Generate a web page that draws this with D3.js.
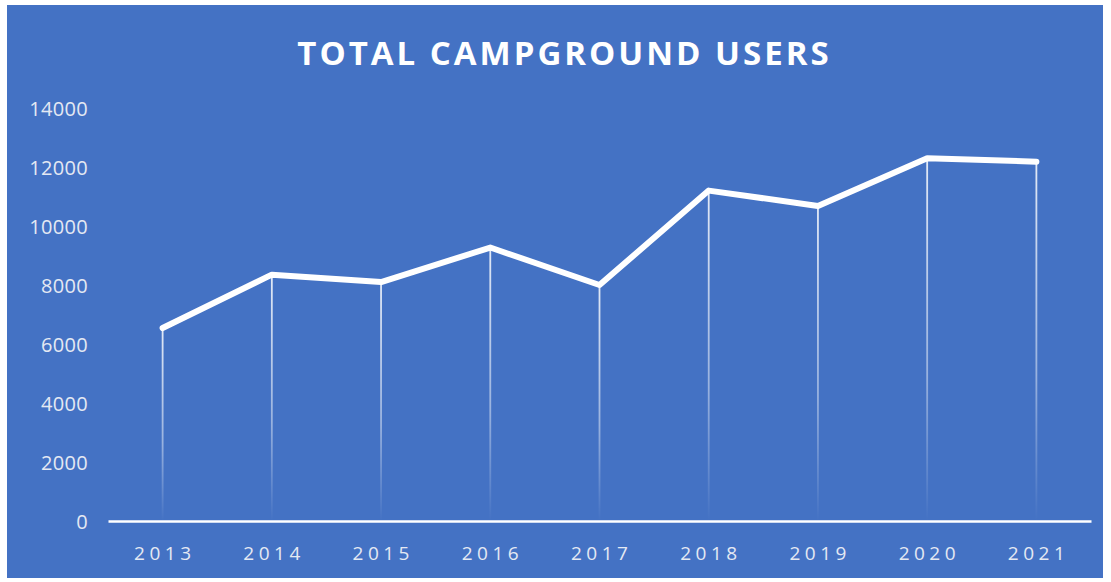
<!DOCTYPE html>
<html>
<head>
<meta charset="utf-8">
<script src="https://cdn.jsdelivr.net/npm/d3@7"></script>
<style>
html,body{margin:0;padding:0;background:#fff;}
svg{display:block;}
</style>
</head>
<body>
<svg id="chart" width="1111" height="582"></svg>
<script>
const years = ["2013","2014","2015","2016","2017","2018","2019","2020","2021"];
const users = [6540, 8350, 8100, 9270, 8000, 11200, 10680, 12300, 12180];
const yTicks = [0, 2000, 4000, 6000, 8000, 10000, 12000, 14000];
const title = "TOTAL CAMPGROUND USERS";

const svg = d3.select("#chart");

svg.append("rect").attr("x", 7).attr("y", 5).attr("width", 1096).attr("height", 573).attr("fill", "#4472C4");

const x = d3.scaleBand().domain(years).range([108, 1091]);
const y = d3.scaleLinear().domain([0, 14000]).range([521, 108]);

const defs = svg.append("defs");
const grad = defs.append("linearGradient").attr("id", "dropGrad")
  .attr("x1", 0).attr("y1", 0).attr("x2", 0).attr("y2", 1);
grad.append("stop").attr("offset", "0%").attr("stop-color", "#fff").attr("stop-opacity", 0.85);
grad.append("stop").attr("offset", "60%").attr("stop-color", "#fff").attr("stop-opacity", 0.45);
grad.append("stop").attr("offset", "100%").attr("stop-color", "#fff").attr("stop-opacity", 0.0);

// title
svg.append("text")
  .attr("x", 563).attr("y", 65)
  .attr("dx", 1.5)
  .attr("text-anchor", "middle")
  .attr("font-family", "'Open Sans', sans-serif")
  .attr("font-weight", "bold")
  .attr("font-size", 33)
  .attr("letter-spacing", "3px")
  .attr("fill", "#fff")
  .text(title);

// y axis labels
const yAxis = d3.axisLeft(y).tickValues(yTicks).tickSize(0).tickPadding(0).tickFormat(d3.format("d"));
const yg = svg.append("g").attr("transform", "translate(88,0)").call(yAxis);
yg.select(".domain").remove();
yg.selectAll("text")
  .attr("font-family", "'Open Sans', sans-serif")
  .attr("font-size", 20)
  .attr("letter-spacing", "0.3px")
  .attr("fill", "#e4e9f3")
  .attr("dy", "0.35em");

// drop lines (rects with gradient)
svg.append("g").selectAll("rect.drop").data(years).join("rect")
  .attr("class", "drop")
  .attr("x", d => x(d) + x.bandwidth() / 2 - 0.9)
  .attr("y", (d, i) => y(users[i]))
  .attr("width", 1.8)
  .attr("height", (d, i) => y(0) - y(users[i]))
  .attr("fill", "url(#dropGrad)");

// x axis
const xAxis = d3.axisBottom(x).tickSize(0).tickPadding(0);
const xg = svg.append("g").attr("transform", `translate(0,${y(0)})`).call(xAxis);
xg.select(".domain").attr("stroke", "#fff").attr("stroke-width", 2.5);
xg.selectAll("text")
  .attr("font-family", "'Open Sans', sans-serif")
  .attr("font-size", 19)
  .attr("letter-spacing", "4.5px")
  .attr("fill", "#e4e9f3")
  .attr("y", 39)
  .attr("dx", 2.2)
  .attr("dy", 0);

// line
const line = d3.line()
  .x((d, i) => x(years[i]) + x.bandwidth() / 2)
  .y(d => y(d));
svg.append("path").datum(users)
  .attr("d", line)
  .attr("fill", "none")
  .attr("stroke", "#fff")
  .attr("stroke-width", 6)
  .attr("stroke-linejoin", "round")
  .attr("stroke-linecap", "round");
</script>
</body>
</html>
